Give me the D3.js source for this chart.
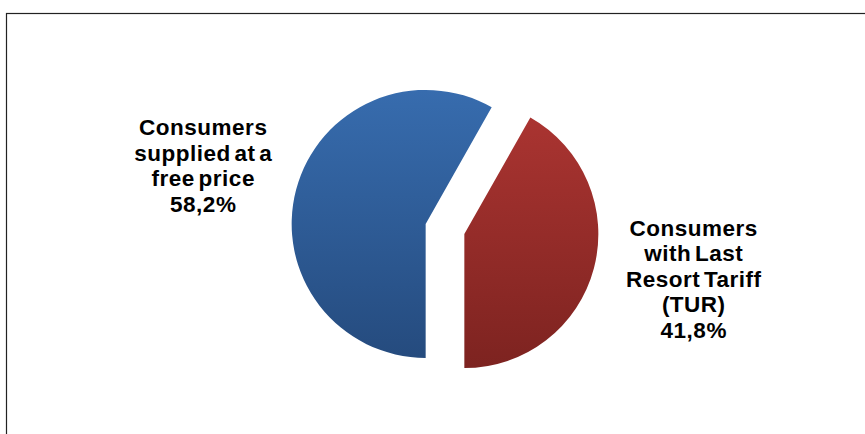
<!DOCTYPE html>
<html>
<head>
<meta charset="utf-8">
<script src="https://cdn.jsdelivr.net/npm/d3@7"></script>
<style>
  html, body { margin: 0; padding: 0; background: #fff; }
  svg { display: block; }
</style>
</head>
<body>
<svg id="chart" width="865" height="434"></svg>
<script>
// Chart data
const labels = [
  ['Consumers', 'supplied at a', 'free price'],
  ['Consumers', 'with Last', 'Resort Tariff', '(TUR)']
];
const values = [58.2, 41.8];
const valueLabels = ['58,2%', '41,8%'];

const colors = [
  { top: '#376CAE', bottom: '#254B7E' },
  { top: '#AA3431', bottom: '#7D2320' }
];

const width = 865, height = 434;
const cx = 445, cy = 229;
const radius = 134;
const explode = 20;
const labelRadius = 250;
const lineHeight = 25.5;

const svg = d3.select('#chart');

// Outer frame (runs off the right and bottom edges)
svg.append('rect')
  .attr('x', 6.5)
  .attr('y', 13.5)
  .attr('width', width)
  .attr('height', height)
  .attr('fill', 'none')
  .attr('stroke', '#222')
  .attr('stroke-width', 1.2);

// Vertical gradients for each slice
const defs = svg.append('defs');
colors.forEach((c, i) => {
  const g = defs.append('linearGradient')
    .attr('id', `grad-${i}`)
    .attr('x1', 0).attr('y1', 0)
    .attr('x2', 0).attr('y2', 1);
  g.append('stop').attr('offset', '0%').attr('stop-color', c.top);
  g.append('stop').attr('offset', '100%').attr('stop-color', c.bottom);
});

const pie = d3.pie()
  .sort(null)
  .value(d => d)
  .startAngle(Math.PI)
  .endAngle(3 * Math.PI);

const arcs = pie(values);
const arc = d3.arc().innerRadius(0).outerRadius(radius);

// Unit direction of a slice's bisector
function bisector(d) {
  const a = (d.startAngle + d.endAngle) / 2;
  return [Math.sin(a), -Math.cos(a)];
}

const root = svg.append('g').attr('transform', `translate(${cx},${cy})`);

root.selectAll('path.slice')
  .data(arcs)
  .join('path')
  .attr('class', 'slice')
  .attr('transform', d => {
    const [ux, uy] = bisector(d);
    return `translate(${ux * explode},${uy * explode})`;
  })
  .attr('d', arc)
  .attr('fill', (d, i) => `url(#grad-${i})`);

// Labels: name lines + percentage, centered along the slice bisector
const labelNudge = [[0, 0], [7, -14]];

root.selectAll('text.label')
  .data(arcs)
  .join('text')
  .attr('class', 'label')
  .attr('text-anchor', 'middle')
  .style('font-family', 'Arial, "Liberation Sans", sans-serif')
  .style('font-size', '22.5px')
  .style('font-weight', 'bold')
  .style('letter-spacing', '0.5px')
  .style('word-spacing', '-3px')
  .attr('fill', '#000')
  .each(function(d, i) {
    const lines = labels[i].concat([valueLabels[i]]);
    const [ux, uy] = bisector(d);
    const x = ux * labelRadius + labelNudge[i][0];
    const yMid = uy * labelRadius + labelNudge[i][1];
    const y0 = yMid - (lines.length - 1) * lineHeight / 2 + 8;
    const t = d3.select(this);
    lines.forEach((line, j) => {
      t.append('tspan')
        .attr('x', x)
        .attr('y', y0 + j * lineHeight)
        .text(line);
    });
  });
</script>
</body>
</html>
